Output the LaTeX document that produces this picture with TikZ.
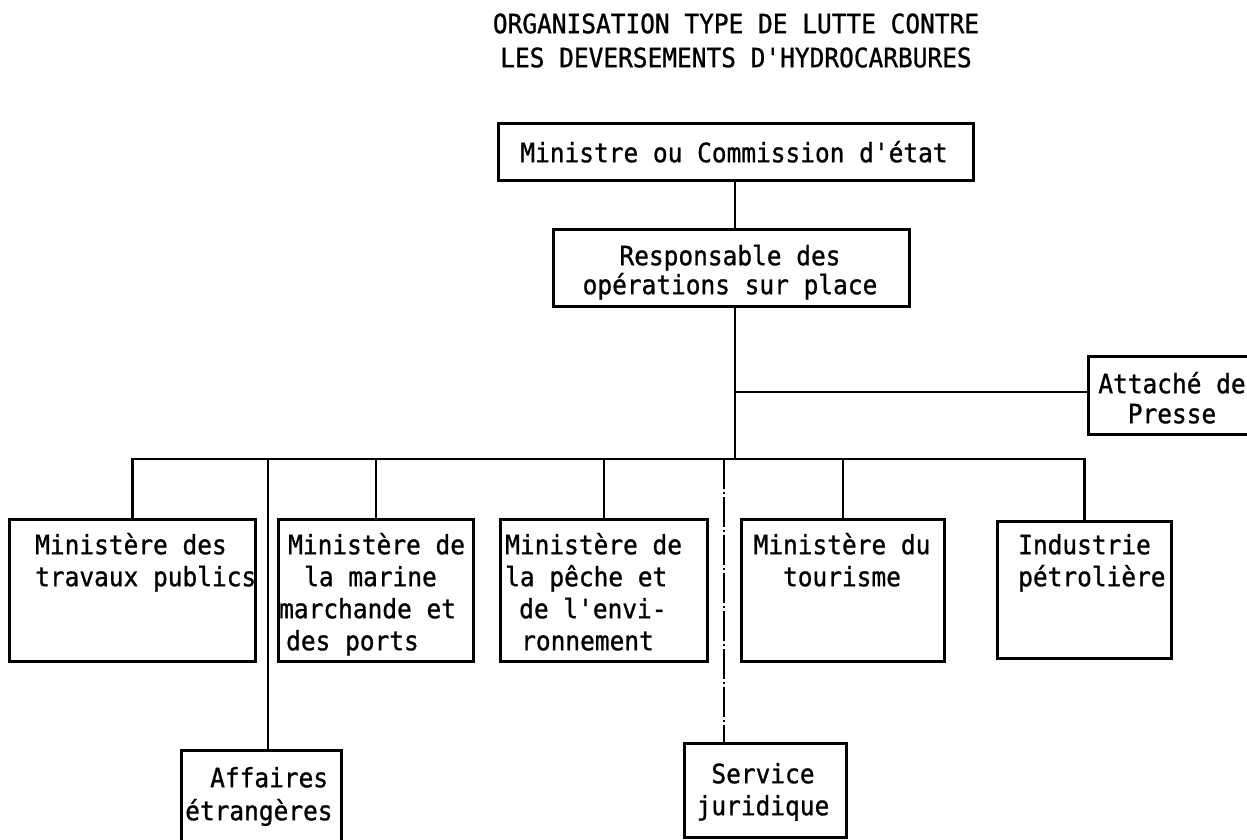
\documentclass[tikz,border=0pt]{standalone}
\usepackage{fontspec}
\newfontfamily\tw[FakeStretch=0.92,FakeBold=1,Ligatures=TeXOff]{DejaVu Sans Mono}
\newcommand{\tstr}{\rule{0pt}{25pt}}
\newcommand{\tf}[1]{\tw\fontsize{26.6pt}{#1pt}\selectfont}
\begin{document}
\begin{tikzpicture}[x=1pt,y=-1pt,
  box/.style={draw, line width=2.8pt, inner sep=0pt, anchor=north west},
  conn/.style={line width=2.8pt},
  thinconn/.style={line width=1.4pt},
  dashconn/.style={line width=1.4pt, dash pattern=on 30pt off 3pt on 2pt off 3pt},
  txt/.style={inner sep=0pt}]
\useasboundingbox (0,0) rectangle (1247,839);
% title
\node[txt, anchor=north, align=center, font={\tf{34}}] (title) at (736,8)
  {\tstr ORGANISATION TYPE DE LUTTE CONTRE\\LES DEVERSEMENTS D'HYDROCARBURES};
% boxes
\node[box, minimum width=475pt, minimum height=57pt] (top) at (497,122) {};
\node[box, minimum width=356pt, minimum height=77pt] (resp) at (552,228) {};
\node[box, minimum width=180pt, minimum height=78pt] (att) at (1087,355) {};
\node[box, minimum width=246pt, minimum height=142pt] (b1) at (8,518) {};
\node[box, minimum width=195pt, minimum height=142pt] (b2) at (277,518) {};
\node[box, minimum width=207pt, minimum height=142pt] (b3) at (499,518) {};
\node[box, minimum width=203pt, minimum height=142pt] (b4) at (740,518) {};
\node[box, minimum width=174pt, minimum height=137pt] (b5) at (996,520) {};
\node[box, minimum width=160pt, minimum height=130pt] (aff) at (180,749) {};
\node[box, minimum width=162pt, minimum height=94pt] (serv) at (683,742) {};
% texts
\node[txt, anchor=north, font={\tf{30}}] (ttop) at (734,137) {\tstr Ministre ou Commission d'état};
\node[txt, anchor=north, align=center, font={\tf{29}}] (tresp) at (730,240)
  {\tstr Responsable des\\opérations sur place};
\node[txt, anchor=north, align=center, font={\tf{30}}] (tatt) at (1172,368)
  {\tstr Attaché de\\Presse};
\node[txt, anchor=north west, align=left, font={\tf{32}}] (t1) at (35,529)
  {\tstr Ministère des\\travaux publics};
\node[txt, anchor=north west, align=left, font={\tf{32}}] (t2) at (279,529)
  {\tstr\hspace*{9pt}Ministère de\\\hspace*{25pt}la marine\\marchande et\\\hspace*{7pt}des ports};
\node[txt, anchor=north west, align=left, font={\tf{32}}] (t3) at (505,529)
  {\tstr Ministère de\\la pêche et\\\hspace*{14pt}de l'envi-\\\hspace*{16pt}ronnement};
\node[txt, anchor=north, align=center, font={\tf{32}}] (t4) at (842,529)
  {\tstr Ministère du\\tourisme};
\node[txt, anchor=north west, align=left, font={\tf{32}}] (t5) at (1018,529)
  {\tstr Industrie\\pétrolière};
\node[txt, anchor=north west, align=left, font={\tf{33}}] (taff) at (185,762)
  {\tstr\hspace*{25pt}Affaires\\étrangères};
\node[txt, anchor=north, align=center, font={\tf{32}}] (tserv) at (763,758)
  {\tstr Service\\juridique};
% junctions
\coordinate (jc) at (735,459);
\coordinate (ja) at (735,392);
\coordinate (ca) at (268,459);
\coordinate (cs) at (724,459);
% connectors
\draw[conn] (top.south -| jc) -- (resp.north -| jc);
\draw[conn] (resp.south -| jc) -- (jc);
\draw[conn] (ja) -- (ja -| att.west);
\draw[conn] (b1.north) -- (b1.north |- jc) -- (b5.north |- jc) -- (b5.north);
\draw[conn] (b2.north) -- (b2.north |- jc);
\draw[conn] (b3.north) -- (b3.north |- jc);
\draw[conn] (b4.north) -- (b4.north |- jc);
\draw[thinconn] (ca) -- (ca |- aff.north);
\draw[dashconn] (cs) -- (cs |- serv.north);
\end{tikzpicture}
\end{document}
